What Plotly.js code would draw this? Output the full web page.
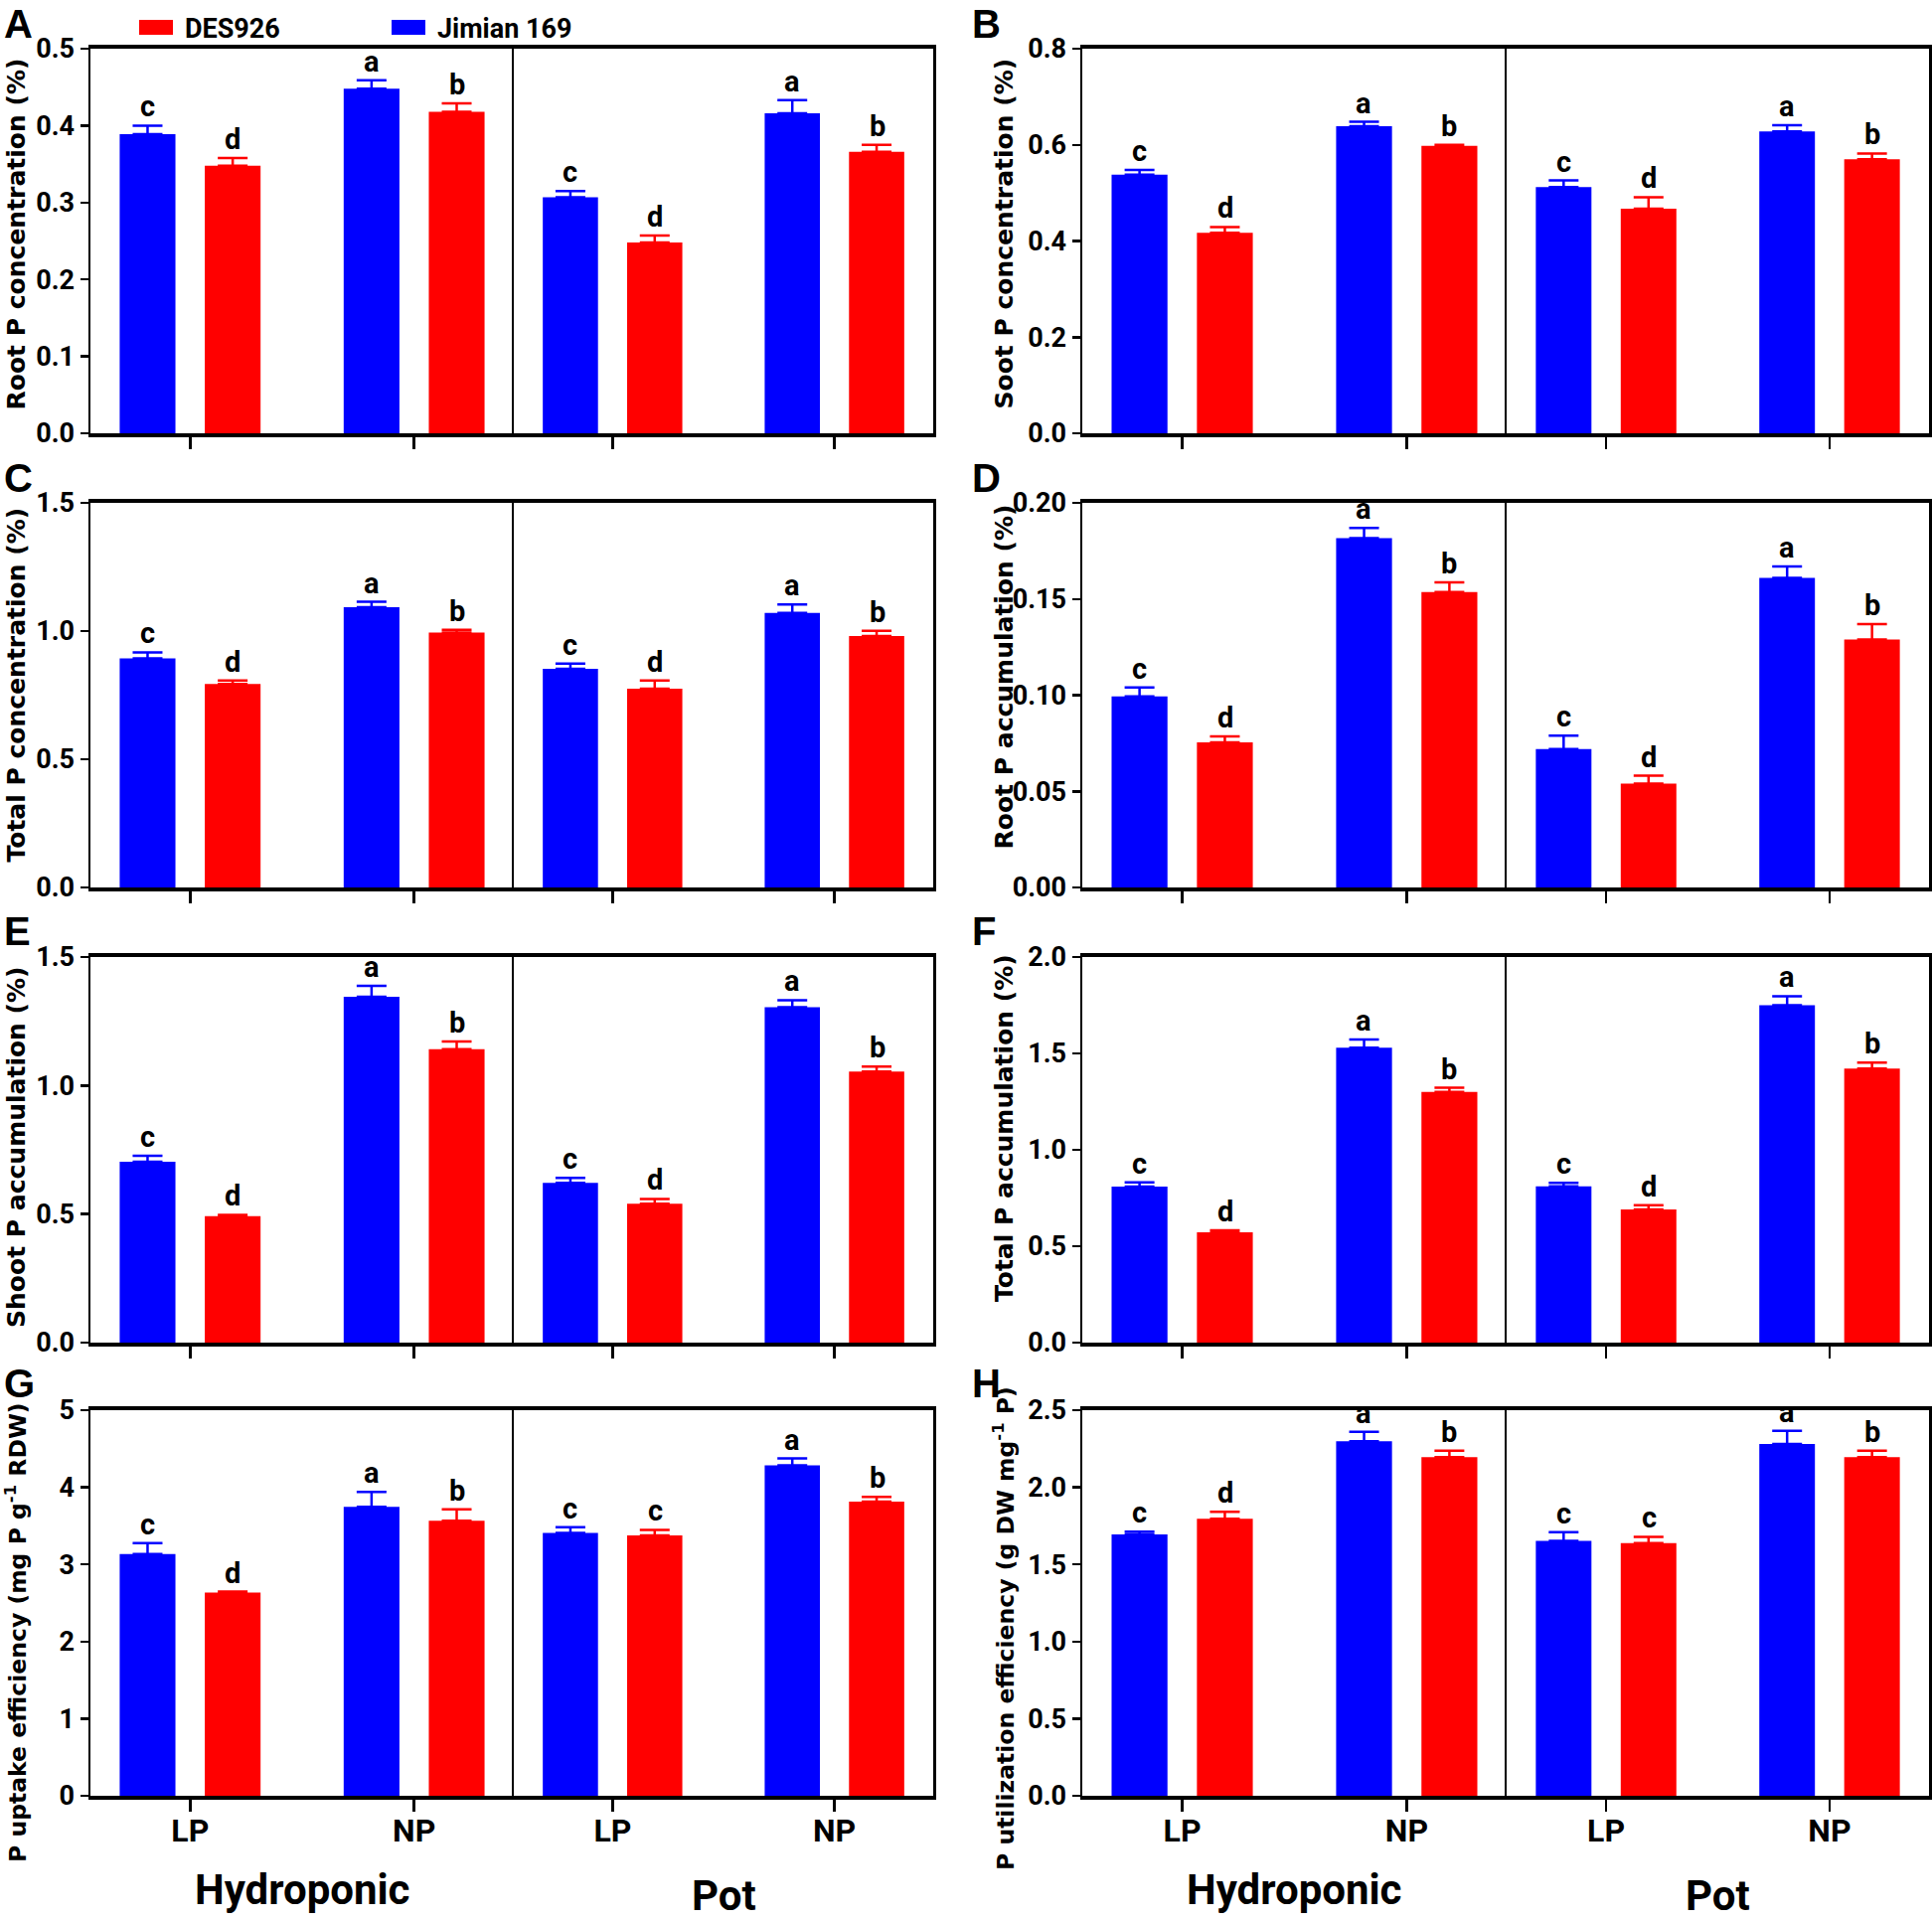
<!DOCTYPE html>
<html><head><meta charset="utf-8">
<script src="https://cdn.plot.ly/plotly-3.0.1.min.js"></script>
<style>html,body{margin:0;padding:0;background:#fff}</style>
</head><body><div id="chart" style="width:1944px;height:1933px"></div>
<script>
// ---------- DATA ----------
const seriesNames = ["DES926", "Jimian 169"];          // legend order
const seriesColors = ["#ff0000", "#0000ff"];
const conditions = ["Hydroponic", "Pot"];
const levels = ["LP", "NP"];
const panelLetters = ["A","B","C","D","E","F","G","H"];
const yTitles = [
  "Root P concentration (%)",
  "Soot P concentration (%)",
  "Total P concentration (%)",
  "Root P accumulation (%)",
  "Shoot P accumulation (%)",
  "Total P accumulation (%)",
  "P uptake efficiency (mg P g<sup>-1</sup> RDW)",
  "P utilization efficiency (g DW mg<sup>-1</sup> P)"
];
const yMax   = [0.5, 0.8, 1.5, 0.20, 1.5, 2.0, 5, 2.5];
const yDtick = [0.1, 0.2, 0.5, 0.05, 0.5, 0.5, 1, 0.5];
const yFmt   = [".1f", ".1f", ".1f", ".2f", ".1f", ".1f", "d", ".1f"];

// order in each array: Hydroponic LP, Hydroponic NP, Pot LP, Pot NP
const rootConcJimian    = [0.389, 0.448, 0.307, 0.416];
const rootConcJimianErr = [0.011, 0.011, 0.008, 0.017];
const rootConcDES       = [0.348, 0.418, 0.248, 0.366];
const rootConcDESErr    = [0.010, 0.011, 0.009, 0.009];

const shootConcJimian    = [0.538, 0.639, 0.512, 0.628];
const shootConcJimianErr = [0.010, 0.009, 0.014, 0.013];
const shootConcDES       = [0.417, 0.598, 0.467, 0.570];
const shootConcDESErr    = [0.012, 0.002, 0.024, 0.012];

const totalConcJimian    = [0.893, 1.093, 0.853, 1.071];
const totalConcJimianErr = [0.024, 0.021, 0.020, 0.033];
const totalConcDES       = [0.794, 0.994, 0.775, 0.981];
const totalConcDESErr    = [0.013, 0.011, 0.032, 0.020];

const rootAccJimian    = [0.0993, 0.1816, 0.0719, 0.161];
const rootAccJimianErr = [0.0047, 0.0054, 0.0071, 0.0059];
const rootAccDES       = [0.0755, 0.1536, 0.054, 0.129];
const rootAccDESErr    = [0.0031, 0.0050, 0.0041, 0.0080];

const shootAccJimian    = [0.704, 1.345, 0.621, 1.305];
const shootAccJimianErr = [0.023, 0.043, 0.020, 0.027];
const shootAccDES       = [0.492, 1.141, 0.540, 1.054];
const shootAccDESErr    = [0.005, 0.030, 0.019, 0.020];

const totalAccJimian    = [0.809, 1.529, 0.810, 1.750];
const totalAccJimianErr = [0.022, 0.043, 0.018, 0.047];
const totalAccDES       = [0.572, 1.300, 0.691, 1.421];
const totalAccDESErr    = [0.011, 0.022, 0.021, 0.031];

const uptakeJimian    = [3.134, 3.746, 3.410, 4.284];
const uptakeJimianErr = [0.142, 0.194, 0.073, 0.091];
const uptakeDES       = [2.634, 3.565, 3.375, 3.815];
const uptakeDESErr    = [0.013, 0.151, 0.073, 0.060];

const utilJimian    = [1.695, 2.298, 1.653, 2.281];
const utilJimianErr = [0.017, 0.062, 0.056, 0.085];
const utilDES       = [1.796, 2.196, 1.638, 2.196];
const utilDESErr    = [0.045, 0.042, 0.041, 0.042];

const lettersJimian = [["c","a","c","a"],["c","a","c","a"],["c","a","c","a"],["c","a","c","a"],
                       ["c","a","c","a"],["c","a","c","a"],["c","a","c","a"],["c","a","c","a"]];
const lettersDES    = [["d","b","d","b"],["d","b","d","b"],["d","b","d","b"],["d","b","d","b"],
                       ["d","b","d","b"],["d","b","d","b"],["d","b","c","b"],["d","b","c","b"]];

const jimianVals = [rootConcJimian, shootConcJimian, totalConcJimian, rootAccJimian, shootAccJimian, totalAccJimian, uptakeJimian, utilJimian];
const jimianErrs = [rootConcJimianErr, shootConcJimianErr, totalConcJimianErr, rootAccJimianErr, shootAccJimianErr, totalAccJimianErr, uptakeJimianErr, utilJimianErr];
const desVals = [rootConcDES, shootConcDES, totalConcDES, rootAccDES, shootAccDES, totalAccDES, uptakeDES, utilDES];
const desErrs = [rootConcDESErr, shootConcDESErr, totalConcDESErr, rootAccDESErr, shootAccDESErr, totalAccDESErr, uptakeDESErr, utilDESErr];

// ---------- LAYOUT GEOMETRY (pixels) ----------
const W = 1944, H = 1933;
const colX = [[91, 517, 939], [1089, 1516, 1941]];
const rowY = [[49, 436], [506, 893], [963, 1351], [1419, 1807]];
const titleX = [16, 1010];
const titleShift = [7, 7, 10, 18, 3, 22, -30, -26];
const titleSize = [25, 25, 25, 25, 25, 25, 23.5, 23.5];
const letterX = [2, 976];
const letterCapTop = [10, 467, 923, 1378];

const FONT = "Roboto, Liberation Sans, sans-serif";
const tickFont = {family: FONT, size: 27, color: "#000", weight: "bold"};
const px = v => v / W;
const py = v => 1 - v / H;

const traces = [];
const layout = {
  width: W, height: H,
  margin: {l: 0, r: 0, t: 0, b: 0},
  paper_bgcolor: "#fff", plot_bgcolor: "rgba(0,0,0,0)",
  showlegend: false,
  barmode: "group", bargap: 0.24, bargroupgap: 0.345,
  annotations: [], shapes: []
};

for (let p = 0; p < 8; p++) {
  const col = p % 2, row = Math.floor(p / 2);
  const [x0, xm, x1] = colX[col];
  const [t, b] = rowY[row];
  for (let h = 0; h < 2; h++) {
    const n = 2 * p + h + 1;
    const xs = n === 1 ? "" : String(n);
    const xdom = h === 0 ? [px(x0), px(xm)] : [px(xm), px(x1)];
    layout["xaxis" + xs] = {
      domain: xdom, anchor: "y" + xs, type: "category",
      categoryorder: "array", categoryarray: levels,
      range: [-0.445, 1.445],
      showline: true, mirror: true, linewidth: 4, linecolor: "#000",
      ticks: "outside", ticklen: 12, tickwidth: 2.5, tickcolor: "#000",
      showticklabels: row === 3, ticklabelstandoff: -8,
      tickfont: {family: FONT, size: 32, color: "#000", weight: "bold"},
      showgrid: false, zeroline: false, fixedrange: true
    };
    const ybase = {
      domain: [py(b), py(t)], anchor: "x" + xs,
      range: [0, yMax[p]], showgrid: false, zeroline: false, fixedrange: true,
      showline: true, linewidth: 2.5, linecolor: "#000"
    };
    if (h === 0) {
      Object.assign(ybase, {
        ticks: "outside", ticklen: 8, tickwidth: 2.5, tickcolor: "#000",
        tick0: 0, dtick: yDtick[p], tickformat: yFmt[p], tickfont: tickFont
      });
    } else {
      Object.assign(ybase, {mirror: true, ticks: "", showticklabels: false});
    }
    layout["yaxis" + xs] = ybase;

    const idx = [2 * h, 2 * h + 1];
    const groups = [
      {name: seriesNames[1], color: seriesColors[1], vals: jimianVals[p], errs: jimianErrs[p], lets: lettersJimian[p], shift: -43},
      {name: seriesNames[0], color: seriesColors[0], vals: desVals[p], errs: desErrs[p], lets: lettersDES[p], shift: 43}
    ];
    groups.forEach(g => {
      traces.push({
        type: "bar", name: g.name,
        x: levels, y: idx.map(i => g.vals[i]),
        xaxis: "x" + xs, yaxis: "y" + xs,
        marker: {color: g.color, line: {width: 0}},
        error_y: {type: "data", symmetric: false, array: idx.map(i => g.errs[i]), arrayminus: [0, 0],
                  color: g.color, thickness: 2.5, width: 15},
        hoverinfo: "skip"
      });
      idx.forEach((i, k) => {
        layout.annotations.push({
          xref: "x" + xs, yref: "y" + xs, x: levels[k], y: g.vals[i] + g.errs[i],
          xshift: g.shift, yshift: 0, yanchor: "bottom", xanchor: "center",
          text: g.lets[i], showarrow: false,
          font: {family: FONT, size: 29, color: "#000", weight: "bold"}
        });
      });
    });

    if (row === 3) {
      layout.annotations.push({
        xref: "x" + xs + " domain", yref: "paper", x: 0.5, y: py(h === 0 ? 1901 : 1907),
        xanchor: "center", yanchor: "middle", text: conditions[h], showarrow: false,
        font: {family: FONT, size: 42, color: "#000", weight: "bold"}
      });
    }
  }
  // y-axis title
  layout.annotations.push({
    xref: "paper", yref: "paper", x: px(titleX[col]), y: py((t + b) / 2),
    yshift: titleShift[p],
    xanchor: "center", yanchor: "middle", textangle: -90, text: yTitles[p], showarrow: false,
    font: {family: "DejaVu Sans, Verdana, sans-serif", size: titleSize[p], color: "#000", weight: "bold"}
  });
  // panel letter
  layout.annotations.push({
    xref: "paper", yref: "paper", x: px(letterX[col]), y: py(letterCapTop[row] + 14),
    xanchor: "left", yanchor: "middle", text: panelLetters[p], showarrow: false,
    font: {family: "Liberation Sans, Arial, sans-serif", size: 40, color: "#000", weight: "bold"}
  });
}

// legend (manual, top of panel A)
const legendBoxes = [[140, 174], [394, 428]];
const legendText = [184, 438];
seriesNames.forEach((nm, i) => {
  layout.shapes.push({type: "rect", xref: "paper", yref: "paper",
    x0: px(legendBoxes[i][0]), x1: px(legendBoxes[i][1]), y0: py(35), y1: py(20),
    fillcolor: seriesColors[i], line: {width: 0}});
  layout.annotations.push({xref: "paper", yref: "paper", x: px(legendText[i]), y: py(29),
    xanchor: "left", yanchor: "middle", text: nm, showarrow: false,
    font: {family: FONT, size: 27, color: "#000", weight: "bold"}});
});

Plotly.newPlot("chart", traces, layout, {staticPlot: true, displayModeBar: false});
</script></body></html>
